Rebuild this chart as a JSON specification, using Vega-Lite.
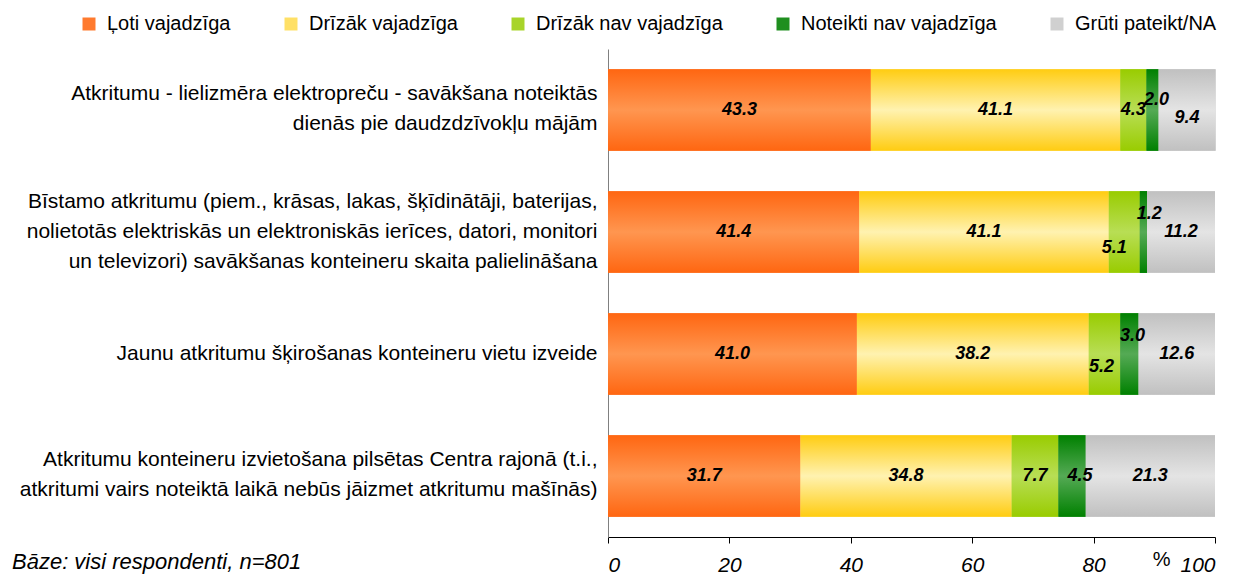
{
  "$schema": "https://vega.github.io/schema/vega-lite/v6.json",
  "width": 607,
  "height": 488,
  "autosize": {"type": "none"},
  "padding": {"left": 608, "top": 49, "right": 18, "bottom": 38},
  "background": "white",
  "config": {"view": {"stroke": null}, "font": "Liberation Sans"},
  "title": {
    "text": "Bāze: visi respondenti, n=801",
    "orient": "bottom",
    "anchor": "start",
    "frame": "group",
    "fontSize": 22,
    "fontStyle": "italic",
    "fontWeight": "normal",
    "color": "black",
    "dx": -596,
    "dy": -23,
    "offset": 0
  },
  "data": {
    "values": [
      {"category": "Atkritumu - lielizmēra elektropreču - savākšana noteiktās|dienās pie daudzdzīvokļu mājām", "series": "Ļoti vajadzīga", "value": 43.3},
      {"category": "Atkritumu - lielizmēra elektropreču - savākšana noteiktās|dienās pie daudzdzīvokļu mājām", "series": "Drīzāk vajadzīga", "value": 41.1},
      {"category": "Atkritumu - lielizmēra elektropreču - savākšana noteiktās|dienās pie daudzdzīvokļu mājām", "series": "Drīzāk nav vajadzīga", "value": 4.3},
      {"category": "Atkritumu - lielizmēra elektropreču - savākšana noteiktās|dienās pie daudzdzīvokļu mājām", "series": "Noteikti nav vajadzīga", "value": 2.0},
      {"category": "Atkritumu - lielizmēra elektropreču - savākšana noteiktās|dienās pie daudzdzīvokļu mājām", "series": "Grūti pateikt/NA", "value": 9.4},
      {"category": "Bīstamo atkritumu (piem., krāsas, lakas, šķīdinātāji, baterijas,|nolietotās elektriskās un elektroniskās ierīces, datori, monitori|un televizori) savākšanas konteineru skaita palielināšana", "series": "Ļoti vajadzīga", "value": 41.4},
      {"category": "Bīstamo atkritumu (piem., krāsas, lakas, šķīdinātāji, baterijas,|nolietotās elektriskās un elektroniskās ierīces, datori, monitori|un televizori) savākšanas konteineru skaita palielināšana", "series": "Drīzāk vajadzīga", "value": 41.1},
      {"category": "Bīstamo atkritumu (piem., krāsas, lakas, šķīdinātāji, baterijas,|nolietotās elektriskās un elektroniskās ierīces, datori, monitori|un televizori) savākšanas konteineru skaita palielināšana", "series": "Drīzāk nav vajadzīga", "value": 5.1},
      {"category": "Bīstamo atkritumu (piem., krāsas, lakas, šķīdinātāji, baterijas,|nolietotās elektriskās un elektroniskās ierīces, datori, monitori|un televizori) savākšanas konteineru skaita palielināšana", "series": "Noteikti nav vajadzīga", "value": 1.2},
      {"category": "Bīstamo atkritumu (piem., krāsas, lakas, šķīdinātāji, baterijas,|nolietotās elektriskās un elektroniskās ierīces, datori, monitori|un televizori) savākšanas konteineru skaita palielināšana", "series": "Grūti pateikt/NA", "value": 11.2},
      {"category": "Jaunu atkritumu šķirošanas konteineru vietu izveide", "series": "Ļoti vajadzīga", "value": 41.0},
      {"category": "Jaunu atkritumu šķirošanas konteineru vietu izveide", "series": "Drīzāk vajadzīga", "value": 38.2},
      {"category": "Jaunu atkritumu šķirošanas konteineru vietu izveide", "series": "Drīzāk nav vajadzīga", "value": 5.2},
      {"category": "Jaunu atkritumu šķirošanas konteineru vietu izveide", "series": "Noteikti nav vajadzīga", "value": 3.0},
      {"category": "Jaunu atkritumu šķirošanas konteineru vietu izveide", "series": "Grūti pateikt/NA", "value": 12.6},
      {"category": "Atkritumu konteineru izvietošana pilsētas Centra rajonā (t.i.,|atkritumi vairs noteiktā laikā nebūs jāizmet atkritumu mašīnās)", "series": "Ļoti vajadzīga", "value": 31.7},
      {"category": "Atkritumu konteineru izvietošana pilsētas Centra rajonā (t.i.,|atkritumi vairs noteiktā laikā nebūs jāizmet atkritumu mašīnās)", "series": "Drīzāk vajadzīga", "value": 34.8},
      {"category": "Atkritumu konteineru izvietošana pilsētas Centra rajonā (t.i.,|atkritumi vairs noteiktā laikā nebūs jāizmet atkritumu mašīnās)", "series": "Drīzāk nav vajadzīga", "value": 7.7},
      {"category": "Atkritumu konteineru izvietošana pilsētas Centra rajonā (t.i.,|atkritumi vairs noteiktā laikā nebūs jāizmet atkritumu mašīnās)", "series": "Noteikti nav vajadzīga", "value": 4.5},
      {"category": "Atkritumu konteineru izvietošana pilsētas Centra rajonā (t.i.,|atkritumi vairs noteiktā laikā nebūs jāizmet atkritumu mašīnās)", "series": "Grūti pateikt/NA", "value": 21.3}
    ]
  },
  "transform": [
    {"stack": "value", "groupby": ["category"], "as": ["x0", "x1"]},
    {"calculate": "(datum.x0 + datum.x1) / 2", "as": "mid"}
  ],
  "encoding": {
    "y": {
      "field": "category",
      "type": "nominal",
      "sort": null,
      "scale": {"paddingInner": 0.33, "paddingOuter": 0.165},
      "axis": {
        "title": null,
        "labelExpr": "split(datum.label, '|')",
        "labelFontSize": 21,
        "labelColor": "black",
        "labelLineHeight": 30,
        "labelLimit": 0,
        "ticks": false,
        "labelPadding": 11,
        "domainColor": "#808080",
        "labelOffset": {
          "condition": [
            {"test": "length(split(datum.value, '|')) === 3", "value": -30},
            {"test": "length(split(datum.value, '|')) === 2", "value": -16}
          ],
          "value": 0
        }
      }
    }
  },
  "layer": [
    {
      "mark": {"type": "bar"},
      "encoding": {
        "x": {
          "field": "x0",
          "type": "quantitative",
          "scale": {"domain": [0, 100], "nice": false},
          "axis": {
            "values": [0, 20, 40, 60, 80, 100],
            "grid": false,
            "labelFontSize": 21,
            "labelFontStyle": "italic",
            "labelColor": "black",
            "tickColor": "black",
            "domainColor": "black",
            "tickSize": 6,
            "labelPadding": 11,
            "title": "%",
            "titleX": 562,
            "titleY": 22,
            "titleFontSize": 20,
            "titleFontWeight": "normal",
            "titleColor": "black",
            "titleBaseline": "middle",
            "titleAlign": "right"
          }
        },
        "x2": {"field": "x1"},
        "color": {
          "field": "series",
          "type": "nominal",
          "scale": {
            "domain": ["Ļoti vajadzīga", "Drīzāk vajadzīga", "Drīzāk nav vajadzīga", "Noteikti nav vajadzīga", "Grūti pateikt/NA"],
            "range": ["#FF7A2E", "#FFE066", "#A8D42A", "#1F8F1F", "#D0D0D0"]
          },
          "legend": {
            "orient": "none",
            "legendX": -529,
            "legendY": -35,
            "direction": "horizontal",
            "title": null,
            "symbolType": "square",
            "symbolSize": 169,
            "symbolStrokeWidth": 0,
            "labelFontSize": 20,
            "labelColor": "black",
            "columnPadding": 50,
            "labelOffset": 8,
            "padding": 0,
            "labelLimit": 0
          }
        }
      }
    },
    {
      "transform": [{"filter": "datum.series === 'Ļoti vajadzīga'"}],
      "mark": {"type": "bar", "color": {"gradient": "linear", "x1": 0, "y1": 0, "x2": 0, "y2": 1, "stops": [{"offset": 0, "color": "#FF6611"}, {"offset": 0.5, "color": "#FF9650"}, {"offset": 1, "color": "#FF6611"}]}},
      "encoding": {"x": {"field": "x0", "type": "quantitative"}, "x2": {"field": "x1"}}
    },
    {
      "transform": [{"filter": "datum.series === 'Drīzāk vajadzīga'"}],
      "mark": {"type": "bar", "color": {"gradient": "linear", "x1": 0, "y1": 0, "x2": 0, "y2": 1, "stops": [{"offset": 0, "color": "#FFCC11"}, {"offset": 0.5, "color": "#FFF2B0"}, {"offset": 1, "color": "#FFCC11"}]}},
      "encoding": {"x": {"field": "x0", "type": "quantitative"}, "x2": {"field": "x1"}}
    },
    {
      "transform": [{"filter": "datum.series === 'Drīzāk nav vajadzīga'"}],
      "mark": {"type": "bar", "color": {"gradient": "linear", "x1": 0, "y1": 0, "x2": 0, "y2": 1, "stops": [{"offset": 0, "color": "#99CC00"}, {"offset": 0.5, "color": "#B8DE55"}, {"offset": 1, "color": "#99CC00"}]}},
      "encoding": {"x": {"field": "x0", "type": "quantitative"}, "x2": {"field": "x1"}}
    },
    {
      "transform": [{"filter": "datum.series === 'Noteikti nav vajadzīga'"}],
      "mark": {"type": "bar", "color": {"gradient": "linear", "x1": 0, "y1": 0, "x2": 0, "y2": 1, "stops": [{"offset": 0, "color": "#008000"}, {"offset": 0.5, "color": "#55AA55"}, {"offset": 1, "color": "#008000"}]}},
      "encoding": {"x": {"field": "x0", "type": "quantitative"}, "x2": {"field": "x1"}}
    },
    {
      "transform": [{"filter": "datum.series === 'Grūti pateikt/NA'"}],
      "mark": {"type": "bar", "color": {"gradient": "linear", "x1": 0, "y1": 0, "x2": 0, "y2": 1, "stops": [{"offset": 0, "color": "#C0C0C0"}, {"offset": 0.5, "color": "#E4E4E4"}, {"offset": 1, "color": "#C0C0C0"}]}},
      "encoding": {"x": {"field": "x0", "type": "quantitative"}, "x2": {"field": "x1"}}
    },
    {
      "transform": [{"filter": "datum.series === 'Ļoti vajadzīga' || datum.series === 'Drīzāk vajadzīga' || (datum.series === 'Grūti pateikt/NA' && datum.value !== 9.4) || (datum.series === 'Drīzāk nav vajadzīga' && (datum.value === 4.3 || datum.value === 7.7))"}],
      "mark": {"type": "text", "fontSize": 18, "fontWeight": "bold", "fontStyle": "italic", "color": "black"},
      "encoding": {"x": {"field": "mid", "type": "quantitative"}, "text": {"field": "value", "type": "quantitative", "format": ".1f"}}
    },
    {
      "transform": [{"filter": "datum.series === 'Grūti pateikt/NA' && datum.value === 9.4"}],
      "mark": {"type": "text", "fontSize": 18, "fontWeight": "bold", "fontStyle": "italic", "color": "black", "dy": 8},
      "encoding": {"x": {"field": "mid", "type": "quantitative"}, "text": {"field": "value", "type": "quantitative", "format": ".1f"}}
    },
    {
      "transform": [{"filter": "datum.series === 'Noteikti nav vajadzīga' && datum.value === 2.0"}],
      "mark": {"type": "text", "fontSize": 18, "fontWeight": "bold", "fontStyle": "italic", "color": "black", "dx": 4, "dy": -10},
      "encoding": {"x": {"field": "mid", "type": "quantitative"}, "text": {"field": "value", "type": "quantitative", "format": ".1f"}}
    },
    {
      "transform": [{"filter": "datum.series === 'Noteikti nav vajadzīga' && datum.value === 1.2"}],
      "mark": {"type": "text", "fontSize": 18, "fontWeight": "bold", "fontStyle": "italic", "color": "black", "dx": 6, "dy": -18},
      "encoding": {"x": {"field": "mid", "type": "quantitative"}, "text": {"field": "value", "type": "quantitative", "format": ".1f"}}
    },
    {
      "transform": [{"filter": "datum.series === 'Noteikti nav vajadzīga' && datum.value === 3.0"}],
      "mark": {"type": "text", "fontSize": 18, "fontWeight": "bold", "fontStyle": "italic", "color": "black", "dx": 3, "dy": -18},
      "encoding": {"x": {"field": "mid", "type": "quantitative"}, "text": {"field": "value", "type": "quantitative", "format": ".1f"}}
    },
    {
      "transform": [{"filter": "datum.series === 'Noteikti nav vajadzīga' && datum.value === 4.5"}],
      "mark": {"type": "text", "fontSize": 18, "fontWeight": "bold", "fontStyle": "italic", "color": "black", "dx": 8},
      "encoding": {"x": {"field": "mid", "type": "quantitative"}, "text": {"field": "value", "type": "quantitative", "format": ".1f"}}
    },
    {
      "transform": [{"filter": "datum.series === 'Drīzāk nav vajadzīga' && datum.value === 5.1"}],
      "mark": {"type": "text", "fontSize": 18, "fontWeight": "bold", "fontStyle": "italic", "color": "black", "dx": -10, "dy": 16},
      "encoding": {"x": {"field": "mid", "type": "quantitative"}, "text": {"field": "value", "type": "quantitative", "format": ".1f"}}
    },
    {
      "transform": [{"filter": "datum.series === 'Drīzāk nav vajadzīga' && datum.value === 5.2"}],
      "mark": {"type": "text", "fontSize": 18, "fontWeight": "bold", "fontStyle": "italic", "color": "black", "dx": -3, "dy": 13},
      "encoding": {"x": {"field": "mid", "type": "quantitative"}, "text": {"field": "value", "type": "quantitative", "format": ".1f"}}
    }
  ]
}
